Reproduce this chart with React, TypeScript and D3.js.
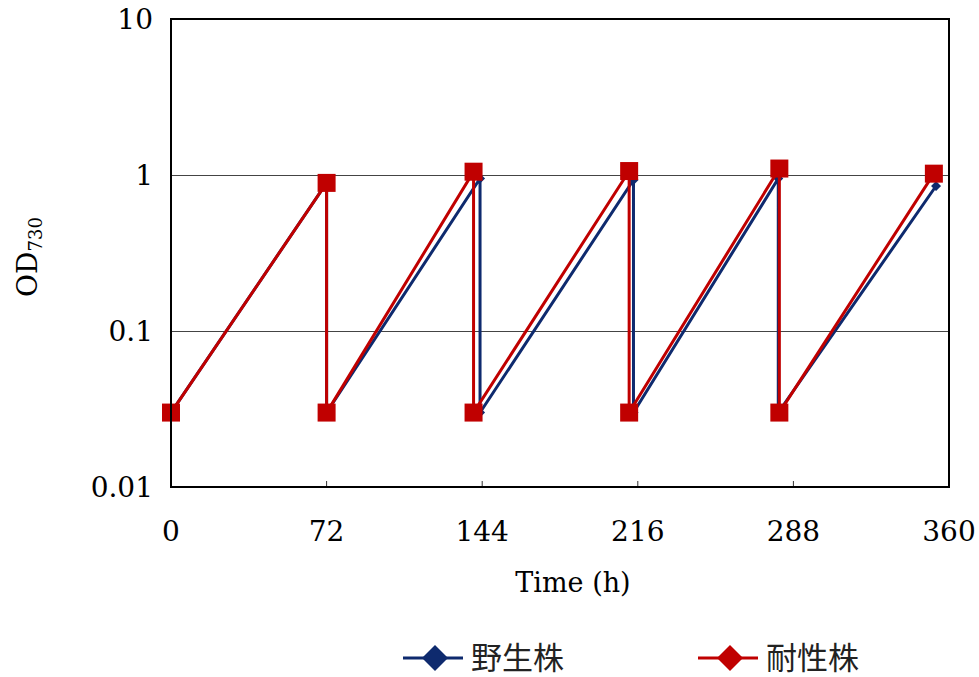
import React from "react";
import * as d3 from "d3";

// Culture time (h) and OD730 for each strain; each dilution is a vertical drop.
const wildTime = [0, 72, 72, 143, 143, 214, 214, 281, 281, 354];
const wildOD = [0.03, 0.89, 0.03, 0.95, 0.03, 0.93, 0.03, 0.95, 0.03, 0.85];
const tolerantTime = [0, 72, 72, 140, 140, 212, 212, 281.5, 281.5, 353];
const tolerantOD = [0.03, 0.89, 0.03, 1.05, 0.03, 1.06, 0.03, 1.1, 0.03, 1.02];

const xTicks = [0, 72, 144, 216, 288, 360];
const yTicks = [0.01, 0.1, 1, 10];
const yTickLabels = ["0.01", "0.1", "1", "10"];
const gridValues = [0.1, 1];

const seriesNames = ["野生株", "耐性株"];
const seriesColors = ["#0e2a6e", "#c00000"];

const W = 979;
const H = 677;
const left = 171;
const right = 949;
const top = 19;
const bottom = 487;

export default function App() {
  const x = d3.scaleLinear().domain([0, 360]).range([left, right]);
  const y = d3.scaleLog().domain([0.01, 10]).range([bottom, top]);

  const wild = wildTime.map((t, i) => [t, wildOD[i]] as [number, number]);
  const tol = tolerantTime.map((t, i) => [t, tolerantOD[i]] as [number, number]);

  const line = d3
    .line<[number, number]>()
    .x((d) => x(d[0]))
    .y((d) => y(d[1]));

  const serif = "'DejaVu Serif', 'Liberation Serif', serif";
  const cjk = "'Noto Sans CJK JP', sans-serif";

  const diamond = (cx: number, cy: number, r: number) =>
    `M${cx},${cy - r}L${cx + r},${cy}L${cx},${cy + r}L${cx - r},${cy}Z`;

  return (
    <svg
      width={W}
      height={H}
      style={{ position: "absolute", left: 0, top: 0, background: "#fff" }}
    >
      {/* gridlines */}
      {gridValues.map((v) => (
        <line
          key={v}
          x1={left}
          x2={right}
          y1={Math.round(y(v)) + 0.5}
          y2={Math.round(y(v)) + 0.5}
          stroke="#444"
          strokeWidth={1}
        />
      ))}

      {/* x ticks */}
      {xTicks.map((t) => (
        <line
          key={t}
          x1={x(t)}
          x2={x(t)}
          y1={bottom}
          y2={bottom - 6}
          stroke="#333"
          strokeWidth={1}
        />
      ))}

      {/* wild type series */}
      <path
        d={line(wild) || ""}
        fill="none"
        stroke={seriesColors[0]}
        strokeWidth={3}
      />
      {wild.map((d, i) => (
        <path
          key={i}
          d={diamond(x(d[0]), y(d[1]), 5)}
          fill={seriesColors[0]}
        />
      ))}

      {/* tolerant series */}
      <path
        d={line(tol) || ""}
        fill="none"
        stroke={seriesColors[1]}
        strokeWidth={3}
      />
      {tol.map((d, i) => (
        <rect
          key={i}
          x={x(d[0]) - 9}
          y={y(d[1]) - 9}
          width={18}
          height={18}
          fill={seriesColors[1]}
        />
      ))}

      {/* frame */}
      <rect
        x={left}
        y={top}
        width={right - left}
        height={bottom - top}
        fill="none"
        stroke="#000"
        strokeWidth={2}
      />

      {/* y tick labels */}
      {yTicks.map((v, i) => (
        <text
          key={v}
          x={153}
          y={y(v) + 10}
          textAnchor="end"
          fontFamily={serif}
          fontSize={28}
          fill="#000"
        >
          {yTickLabels[i]}
        </text>
      ))}

      {/* x tick labels */}
      {xTicks.map((t) => (
        <text
          key={t}
          x={x(t)}
          y={541}
          textAnchor="middle"
          fontFamily={serif}
          fontSize={28}
          fill="#000"
        >
          {t}
        </text>
      ))}

      {/* axis titles */}
      <text
        x={573}
        y={592}
        textAnchor="middle"
        fontFamily={serif}
        fontSize={27}
        fill="#000"
      >
        Time (h)
      </text>
      <text
        transform="translate(37,257) rotate(-90)"
        textAnchor="middle"
        fontFamily={serif}
        fontSize={28}
        fill="#000"
      >
        OD
        <tspan fontSize={18} dy={5}>
          730
        </tspan>
      </text>

      {/* legend */}
      {seriesNames.map((name, i) => {
        const lx = i === 0 ? 403 : 698;
        const ly = 658;
        return (
          <g key={name}>
            <line
              x1={lx}
              x2={lx + 60}
              y1={ly}
              y2={ly}
              stroke={seriesColors[i]}
              strokeWidth={3}
            />
            <path d={diamond(lx + 32, ly, 13)} fill={seriesColors[i]} />
            <text
              x={lx + 68}
              y={ly + 11}
              fontFamily={cjk}
              fontSize={31}
              fill="#222"
            >
              {name}
            </text>
          </g>
        );
      })}
    </svg>
  );
}
